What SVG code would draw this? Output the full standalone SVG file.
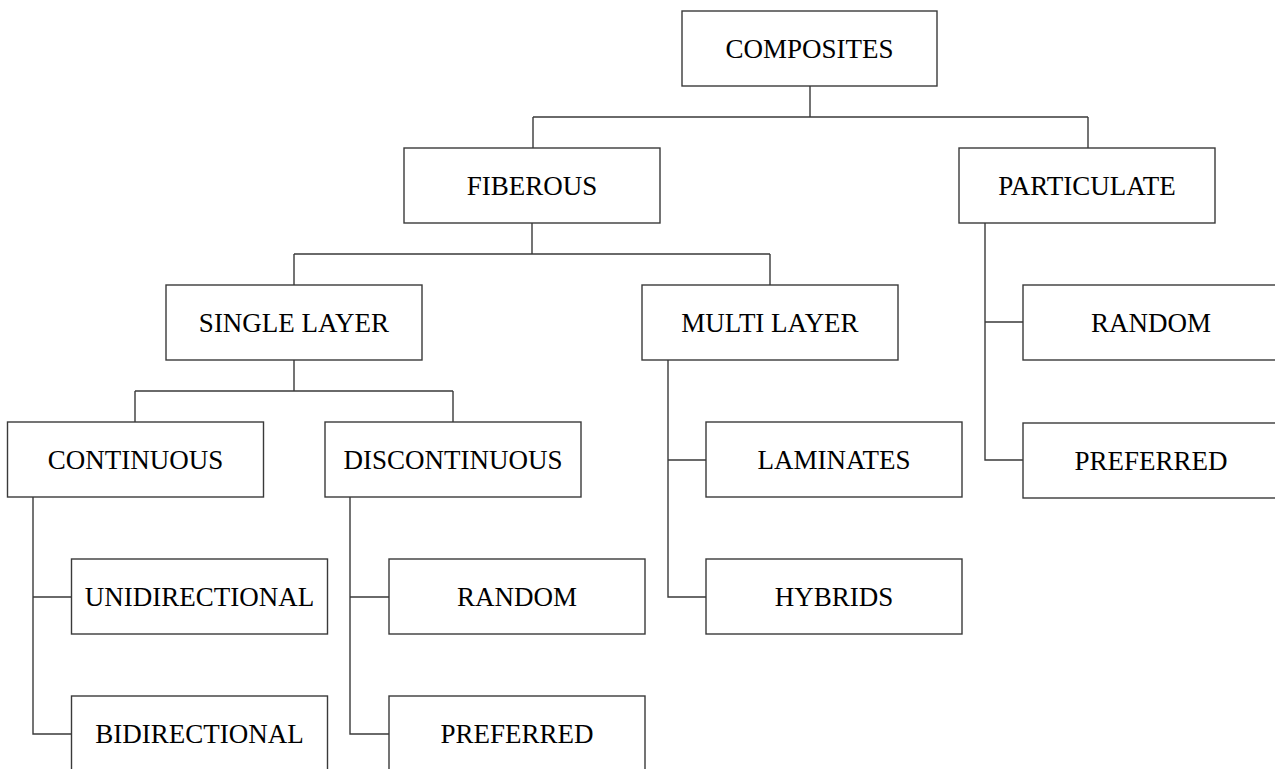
<svg xmlns="http://www.w3.org/2000/svg" width="1275" height="769" viewBox="0 0 1275 769">
<style>
.box{fill:#fff;stroke:#3a3a3a;stroke-width:1.4}
.lbl{font-family:"Liberation Serif","Times New Roman",serif;font-size:27px;fill:#000;text-anchor:middle}
.con{fill:none;stroke:#3a3a3a;stroke-width:1.4}
</style>
<rect width="1275" height="769" fill="#fff"/>
<g id="connectors">
<path class="con" d="M810 86V117M533 117H1088M533 117V148M1088 117V148"/>
<path class="con" d="M532 223V254M294 254H770M294 254V285M770 254V285"/>
<path class="con" d="M294 360V391M135 391H453M135 391V422M453 391V422"/>
<path class="con" d="M33 497V734H71.5M33 597H71.5"/>
<path class="con" d="M350 497V734H389M350 597H389"/>
<path class="con" d="M668 360V597H706M668 460H706"/>
<path class="con" d="M985 223V460H1023M985 322H1023"/>
</g>
<g id="composites"><rect class="box" x="682" y="11" width="255" height="75"/><text class="lbl" x="809.5" y="58">COMPOSITES</text></g>
<g id="fiberous"><rect class="box" x="404" y="148" width="256" height="75"/><text class="lbl" x="532" y="195">FIBEROUS</text></g>
<g id="particulate"><rect class="box" x="959" y="148" width="256" height="75"/><text class="lbl" x="1087" y="195">PARTICULATE</text></g>
<g id="single-layer"><rect class="box" x="166" y="285" width="256" height="75"/><text class="lbl" x="294" y="332">SINGLE LAYER</text></g>
<g id="multi-layer"><rect class="box" x="642" y="285" width="256" height="75"/><text class="lbl" x="770" y="332">MULTI LAYER</text></g>
<g id="particulate-random"><rect class="box" x="1023" y="285" width="256" height="75"/><text class="lbl" x="1151" y="332">RANDOM</text></g>
<g id="continuous"><rect class="box" x="7.5" y="422" width="256" height="75"/><text class="lbl" x="135.5" y="469">CONTINUOUS</text></g>
<g id="discontinuous"><rect class="box" x="325" y="422" width="256" height="75"/><text class="lbl" x="453" y="469">DISCONTINUOUS</text></g>
<g id="laminates"><rect class="box" x="706" y="422" width="256" height="75"/><text class="lbl" x="834" y="469">LAMINATES</text></g>
<g id="particulate-preferred"><rect class="box" x="1023" y="423" width="256" height="75"/><text class="lbl" x="1151" y="470">PREFERRED</text></g>
<g id="unidirectional"><rect class="box" x="71.5" y="559" width="256" height="75"/><text class="lbl" x="199.5" y="606">UNIDIRECTIONAL</text></g>
<g id="disc-random"><rect class="box" x="389" y="559" width="256" height="75"/><text class="lbl" x="517" y="606">RANDOM</text></g>
<g id="hybrids"><rect class="box" x="706" y="559" width="256" height="75"/><text class="lbl" x="834" y="606">HYBRIDS</text></g>
<g id="bidirectional"><rect class="box" x="71.5" y="696" width="256" height="75"/><text class="lbl" x="199.5" y="743">BIDIRECTIONAL</text></g>
<g id="disc-preferred"><rect class="box" x="389" y="696" width="256" height="75"/><text class="lbl" x="517" y="743">PREFERRED</text></g>
</svg>
